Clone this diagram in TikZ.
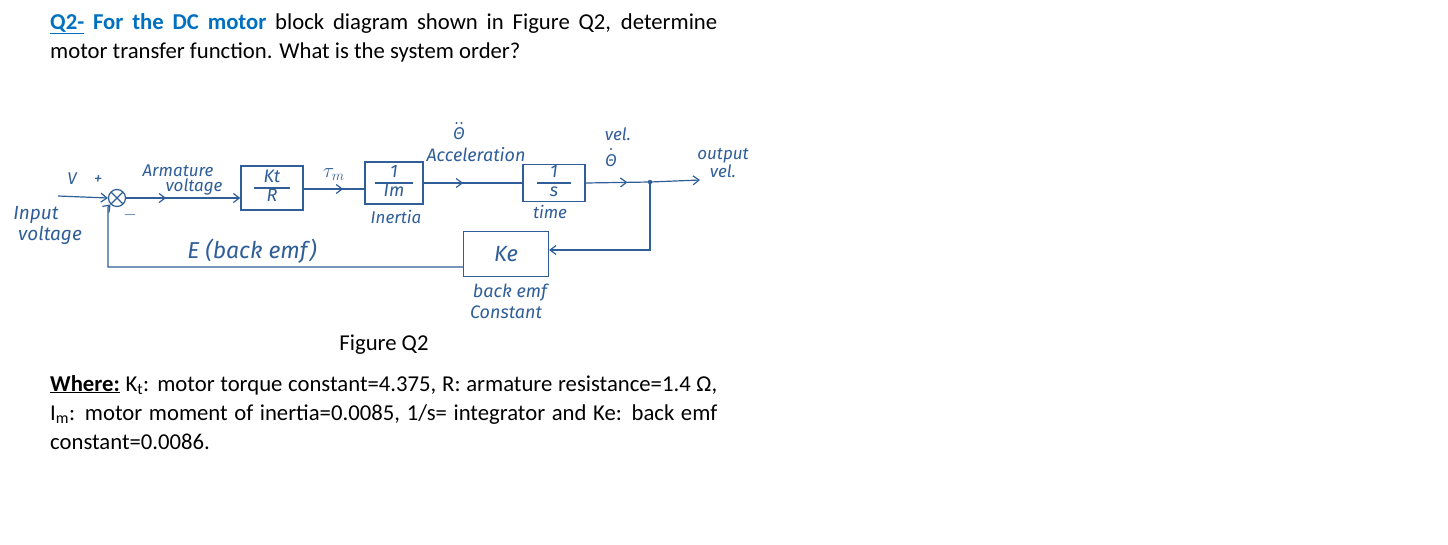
\documentclass[tikz,border=0pt]{standalone}
\usepackage{fontspec}
\setmainfont{Carlito}
\newfontfamily\handfont{Fira Sans}
\usetikzlibrary{arrows.meta,decorations.markings,calc}
\definecolor{qblue}{HTML}{0070C0}
\definecolor{ink}{HTML}{2F5E98}
\newcommand{\hfr}[3]{\vbox{\offinterlineskip\halign{\hfil##\hfil\cr\strut #2\cr\noalign{\vskip0pt}\rule{#1}{1.1pt}\cr\noalign{\vskip0pt}\strut #3\cr}}}
\tikzset{
  txt/.style={anchor=base west,inner sep=0pt,font=\fontsize{22.7pt}{29pt}\selectfont},
  hand/.style={inner sep=0pt,text=ink,font=\handfont\itshape\fontsize{17pt}{19pt}\selectfont},
  blk/.style={draw=ink,line width=1.2pt,minimum width=#1,inner sep=0pt,text=ink,
     font=\handfont\itshape\fontsize{18pt}{18pt}\selectfont},
  wire/.style={draw=ink,line width=1.2pt},
  tip/.style={-{Straight Barb[length=6pt,width=9pt,line width=1.2pt]}},
  midarrow/.style={postaction={decorate},decoration={markings,
     mark=at position #1 with {\arrow{Straight Barb[length=6pt,width=9pt,line width=1.2pt]}}}},
}
\begin{document}
\begin{tikzpicture}[x=1pt,y=-1pt]
\useasboundingbox (0,0) rectangle (1448,544);
\fill[white] (0,0) rectangle (1448,544);

% question text
\node[txt] (q1) at (50,29) {\makebox[667pt][s]{\textcolor{qblue}{\textbf{\underline{Q2-} For the DC motor}} block diagram shown in Figure Q2, determine}};
\node[txt] (q2) at (50,58) {motor transfer function. What is the system order?};

% blocks
\node[circle,draw=ink,line width=1.2pt,minimum size=17pt,inner sep=0pt,
      path picture={\draw[ink,line width=1.1pt] (path picture bounding box.south west) -- (path picture bounding box.north east)
                    (path picture bounding box.north west) -- (path picture bounding box.south east);}] (sum) at (117,198) {};
\node[blk=62pt,minimum height=44pt] (kt) at (272,188) {\hfr{36pt}{Kt}{R}};
\node[blk=58pt,minimum height=42pt] (im) at (394,183) {\hfr{38pt}{1}{Im}};
\node[blk=62pt,minimum height=35pt] (sb) at (554,183) {\hfr{34pt}{1}{s}};
\node[blk=85pt,minimum height=45pt,font=\handfont\itshape\fontsize{22pt}{24pt}\selectfont] (ke) at (506,254) {Ke};

% coordinates
\coordinate (vin) at (58,196);
\coordinate (jn) at (650,182);
\coordinate (vout) at (700,180);
\coordinate (c1) at (650,250);
\coordinate (c2) at (108,267);
\fill[ink] (jn) circle (2.2pt);

% connectors
\draw[wire,tip] (vin) -- (sum.west);
\draw[wire,tip,midarrow=0.35] (sum.east) -- (kt.west |- sum.east);
\draw[wire,midarrow=0.65] (kt.east |- 0,189) -- (im.west |- 0,189);
\draw[wire,midarrow=0.4] (im.east) -- (sb.west);
\draw[wire,midarrow=0.65] (sb.east) -- (jn);
\draw[wire,tip] (jn) -- (vout);
\draw[wire,tip] (jn) -- (c1) -- (ke.east |- c1);
\draw[wire,tip] (ke.west |- c2) -- (c2) -- (sum.south -| c2) -- (sum.south west);

% labels
\node[hand,anchor=base] (lv) at (72,184) {V};
\node[hand,anchor=base] (lp) at (98,184) {+};
\node[hand,anchor=base] (lm) at (130,219) {$-$};
\node[hand,anchor=base,font=\handfont\itshape\fontsize{19pt}{21pt}\selectfont] (lin1) at (36,219) {Input};
\node[hand,anchor=base,font=\handfont\itshape\fontsize{19pt}{21pt}\selectfont] (lin2) at (50,240) {voltage};
\node[hand,anchor=base,font=\handfont\itshape\fontsize{17pt}{19pt}\selectfont] (la1) at (178,176) {Armature};
\node[hand,anchor=base,font=\handfont\itshape\fontsize{17pt}{19pt}\selectfont] (la2) at (194,191) {voltage};
\node[hand,anchor=base,font=\fontsize{22pt}{24pt}\selectfont] (ltau) at (334,177) {$\tau_m$};
\node[hand,anchor=base] (lin) at (396,223) {Inertia};
\node[hand,anchor=base] (lth2) at (459,139) {Θ};
\fill[ink] (456.5,123) circle (1.1pt) (461.5,123) circle (1.1pt);
\node[hand,anchor=base,font=\handfont\itshape\fontsize{18pt}{20pt}\selectfont] (lacc) at (476,161) {Acceleration};
\node[hand,anchor=base] (ltime) at (550,218) {time};
\node[hand,anchor=base] (lvel) at (618,140) {vel.};
\node[hand,anchor=base] (lth1) at (611,166) {Θ};
\fill[ink] (611,149) circle (1.1pt);
\node[hand,anchor=base] (lo1) at (723,159) {output};
\node[hand,anchor=base] (lo2) at (723,177) {vel.};
\node[hand,anchor=base,font=\handfont\itshape\fontsize{23pt}{25pt}\selectfont] (le) at (252,258) {E (back emf)};
\node[hand,anchor=base,font=\handfont\itshape\fontsize{18pt}{20pt}\selectfont] (lk1) at (510,297) {back emf};
\node[hand,anchor=base,font=\handfont\itshape\fontsize{18pt}{20pt}\selectfont] (lk2) at (506,318) {Constant};

% caption and data
\node[txt,anchor=base] (cap) at (384,350) {Figure Q2};
\node[txt] (w1) at (50,391) {\makebox[667pt][s]{\textbf{\underline{Where:}} K\textsubscript{t}: motor torque constant=4.375, R: armature resistance=1.4 Ω,}};
\node[txt] (w2) at (50,420) {\makebox[667pt][s]{I\textsubscript{m}: motor moment of inertia=0.0085, 1/s= integrator and Ke: back emf}};
\node[txt] (w3) at (50,449) {constant=0.0086.};
\end{tikzpicture}
\end{document}
